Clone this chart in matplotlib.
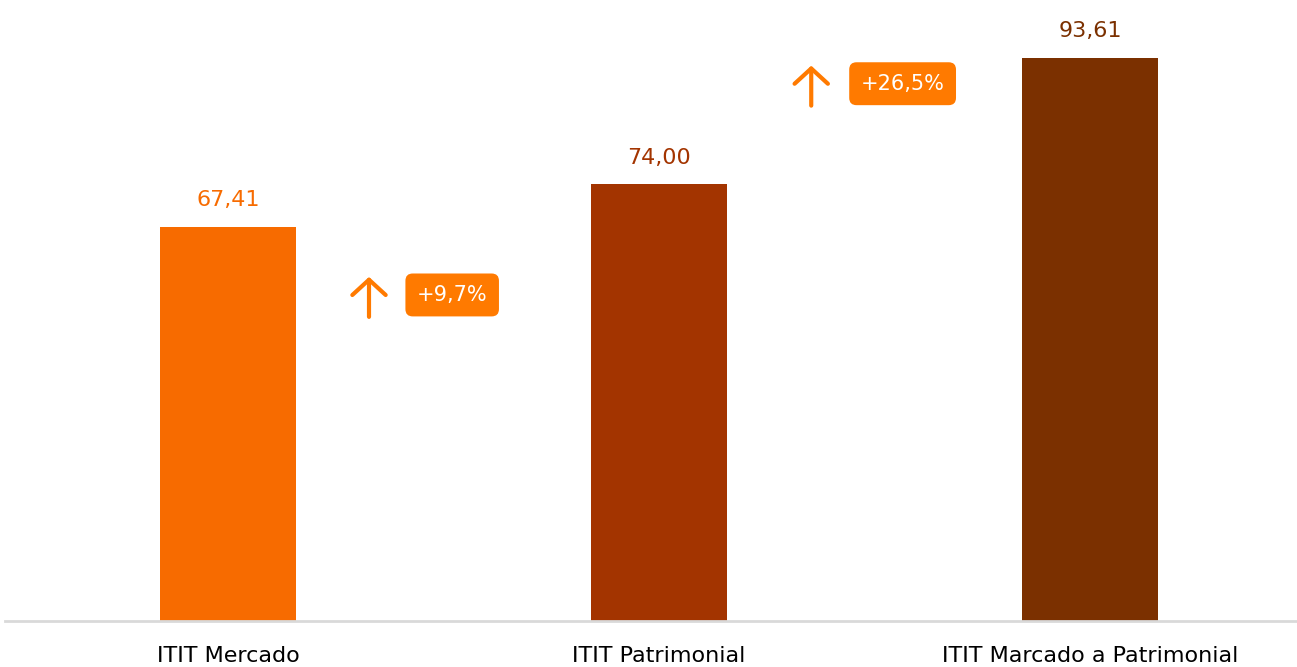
import numpy as np
import matplotlib
matplotlib.use('Agg')
import matplotlib.pyplot as plt

categories = ['ITIT Mercado', 'ITIT Patrimonial', 'ITIT Marcado a Patrimonial']
values = [67.41, 74.00, 93.61]
value_labels = ['67,41', '74,00', '93,61']
bar_colors = ['#F76B00', '#A33400', '#7B3000']

# growth badges: text, arrow x, badge x, y (data units)
badges = ['+9,7%', '+26,5%']
badge_x = [0.52, 1.565]
arrow_x = [0.327, 1.353]
badge_y = [56.85, 89.6]

matplotlib.rcParams['font.family'] = 'DejaVu Sans'
badge_color = '#FF7A00'

fig = plt.figure(figsize=(12.97, 6.67), dpi=100)
ax = fig.add_axes([5 / 1297, 46 / 667, 1292 / 1297, 621 / 667])

x = np.arange(len(categories))
ax.bar(x, values, width=0.316, color=bar_colors, zorder=2)

for xi, v, lab, c in zip(x, values, value_labels, bar_colors):
    ax.annotate(lab, (xi, v), xytext=(0, 12), textcoords='offset points',
                ha='center', va='bottom', fontsize=16, color=c)

for txt, ax_x, bx, by in zip(badges, arrow_x, badge_x, badge_y):
    ax.annotate('', xy=(ax_x, by + 2.8), xytext=(ax_x, by - 3.4),
                arrowprops=dict(arrowstyle='->, head_length=0.55, head_width=0.6',
                                lw=3, color=badge_color, mutation_scale=20,
                                capstyle='round', joinstyle='round',
                                shrinkA=0, shrinkB=0))
    ax.text(bx, by, txt, ha='center', va='center', fontsize=15, color='white',
            bbox=dict(boxstyle='round,pad=0.55,rounding_size=0.35',
                      fc=badge_color, ec='none'))

ax.set_xlim(-0.5175, 2.480)
ax.set_ylim(6.3, 6.3 + 621 / 6.45)

for s in ['top', 'right', 'left']:
    ax.spines[s].set_visible(False)
ax.spines['bottom'].set_color('#d9d9d9')
ax.spines['bottom'].set_linewidth(2)
ax.set_yticks([])
ax.set_xticks(x)
ax.set_xticklabels(categories, fontsize=16, color='black')
ax.tick_params(axis='x', length=0, pad=18)

fig.savefig('out.png', dpi=100)
